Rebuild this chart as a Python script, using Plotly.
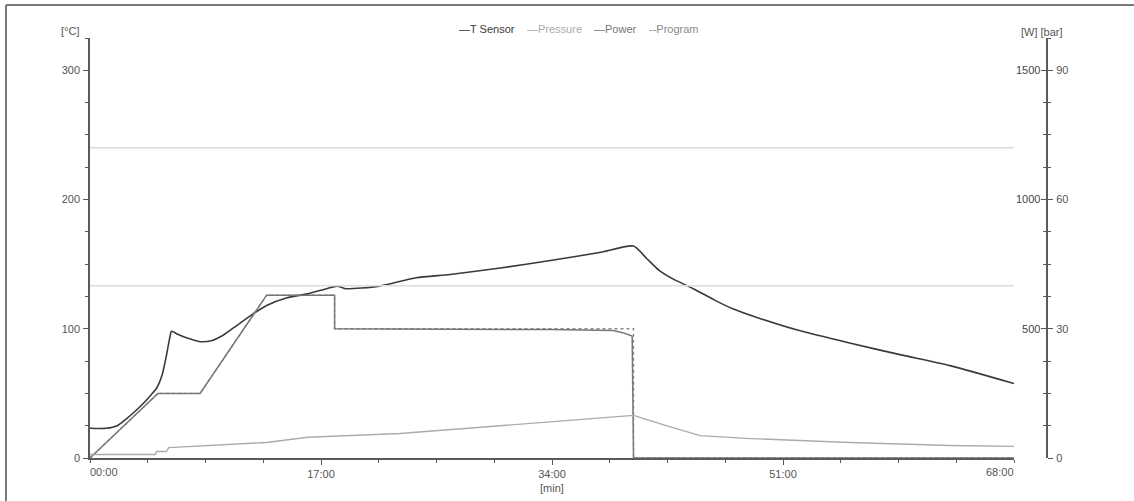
import plotly.graph_objects as go

# ---------------- data ----------------
# time in minutes
t_sensor_time = [0, 1.2, 2.0, 2.7, 3.3, 3.9, 4.5, 4.9, 5.3, 5.6, 5.85, 6.0, 6.5, 7.1, 8.1, 9.0, 9.8,
                 10.8, 12.0, 13.0, 14.5, 16.0, 17.4, 18.2, 18.8, 21.3, 24.0, 26.5, 30.2, 34.0,
                 37.5, 40.0, 41.0, 41.9, 43.0, 44.4, 46.0, 47.3, 49.3, 52.2, 55.9, 59.6, 63.3, 68.0]
t_sensor_c = [23, 23, 25, 30.5, 36, 42, 49, 54, 64, 78, 92, 98, 95.5, 93, 90, 91, 95,
              102.5, 111.5, 118, 124, 127, 131, 133, 131, 133, 139.5, 142, 147, 153,
              159, 164, 154, 145, 138, 131, 122, 115.5, 108, 98.6, 89, 80, 71.5, 57.6]

program_time = [0, 5.0, 8.1, 13.0, 18.0, 18.0, 40.0, 40.0, 68.0]
program_c = [0, 50, 50, 126, 126, 100, 100, 0, 0]

power_time = [0, 5.0, 8.1, 13.0, 18.0, 18.0, 34.0, 38.5, 39.2, 39.9, 40.0, 68.0]
power_w = [0, 250, 250, 630, 630, 500, 497, 493, 485, 472, 0, 0]

pressure_time = [0, 4.8, 4.9, 5.6, 5.8, 9.0, 13.0, 16.0, 17.5, 19.0, 22.8, 30.2, 37.5, 40.0,
                 42.4, 44.4, 44.9, 48.6, 55.9, 63.3, 68.0]
pressure_bar = [0.8, 0.8, 1.5, 1.5, 2.4, 3.0, 3.6, 4.8, 5.0, 5.1, 5.7, 7.5, 9.2, 9.9,
                7.5, 5.7, 5.2, 4.5, 3.6, 2.9, 2.7]

temp_limit_c = 240
pressure_limit_bar = 40

x_tick_vals = [0, 17, 34, 51, 68]
x_tick_text = ["00:00", "17:00", "34:00", "51:00", "68:00"]
temp_ticks = [0, 100, 200, 300]
power_ticks = [0, 500, 1000, 1500]
pressure_ticks = [0, 30, 60, 90]

# ---------------- styling ----------------
C_T = "#3a3a3a"
C_PRESS = "#ababab"
C_POWER = "#767676"
C_PROG = "#8a8a8a"
C_LIMIT = "#dcdcdc"
C_AXIS = "#5a5a5a"
C_TEXT = "#555555"
FONT = "Liberation Sans, Arial, sans-serif"

fig = go.Figure()

# limit lines
fig.add_trace(go.Scatter(x=[0, 68], y=[temp_limit_c, temp_limit_c], mode="lines",
                         line=dict(color=C_LIMIT, width=1.5), showlegend=False, hoverinfo="skip"))
fig.add_trace(go.Scatter(x=[0, 68], y=[pressure_limit_bar, pressure_limit_bar], yaxis="y3",
                         mode="lines", line=dict(color=C_LIMIT, width=1.5),
                         showlegend=False, hoverinfo="skip"))

fig.add_trace(go.Scatter(x=pressure_time, y=pressure_bar, yaxis="y3", name="Pressure",
                         mode="lines", line=dict(color=C_PRESS, width=1.4), showlegend=False))
fig.add_trace(go.Scatter(x=power_time, y=power_w, yaxis="y2", name="Power",
                         mode="lines", line=dict(color=C_POWER, width=1.5), showlegend=False))
fig.add_trace(go.Scatter(x=program_time, y=program_c, name="Program",
                         mode="lines", line=dict(color=C_PROG, width=1.3, dash="dot"),
                         showlegend=False))
fig.add_trace(go.Scatter(x=t_sensor_time, y=t_sensor_c, name="T Sensor",
                         mode="lines", line=dict(color=C_T, width=1.6, shape="spline",
                                                 smoothing=0.6),
                         showlegend=False))

L, R, T, B = 90, 87, 38, 43
W, H = 1134, 501
pw, ph = W - L - R, H - T - B


def px_x(x):
    return (x - L) / pw


def px_y(y):
    return (H - B - y) / ph


fig.update_layout(
    width=W, height=H,
    margin=dict(l=L, r=R, t=T, b=B, autoexpand=False),
    paper_bgcolor="white", plot_bgcolor="white",
    font=dict(family=FONT, size=11, color=C_TEXT),
    showlegend=False,
    xaxis=dict(
        domain=[0, px_x(1014)], range=[0, 68], automargin=False,
        tickvals=x_tick_vals[1:-1], ticktext=x_tick_text[1:-1],
        ticks="outside", ticklen=5, tickcolor=C_AXIS, tickwidth=1.2,
        minor=dict(dtick=4.25, tick0=0, ticks="outside", ticklen=3, tickcolor=C_AXIS),
        showline=True, linecolor=C_AXIS, linewidth=1.6,
        showgrid=False, zeroline=False,
        tickfont=dict(size=11, color=C_TEXT),
    ),
    yaxis=dict(
        range=[0, 325], tickvals=temp_ticks, automargin=False,
        ticks="outside", ticklen=5, tickcolor=C_AXIS, tickwidth=1.2,
        minor=dict(dtick=25, ticks="outside", ticklen=3, tickcolor=C_AXIS),
        showline=True, linecolor=C_AXIS, linewidth=1.6,
        showgrid=False, zeroline=False, ticklabelstandoff=1,
    ),
    yaxis2=dict(
        overlaying="y", anchor="free", position=1, side="right", automargin=False,
        range=[0, 1625], tickvals=power_ticks,
        ticks="inside", ticklen=5, tickcolor=C_AXIS, tickwidth=1.2,
        ticklabelposition="inside",
        minor=dict(dtick=125, ticks="inside", ticklen=3, tickcolor=C_AXIS),
        showline=True, linecolor=C_AXIS, linewidth=1.6,
        showgrid=False, zeroline=False,
    ),
    yaxis3=dict(
        overlaying="y", anchor="free", position=1, side="right", automargin=False,
        range=[0, 97.5], tickvals=pressure_ticks,
        ticks="outside", ticklen=5, tickcolor=C_AXIS, tickwidth=1.2,
        minor=dict(dtick=7.5, ticks="outside", ticklen=3, tickcolor=C_AXIS),
        showline=False, showgrid=False, zeroline=False, ticklabelstandoff=1,
    ),
)

annotations = [
    dict(text="[°C]", x=px_x(70), y=px_y(31), xref="paper", yref="paper",
         showarrow=False, xanchor="center", yanchor="middle", font=dict(size=11, color=C_TEXT)),
    dict(text="[W] [bar]", x=px_x(1042), y=px_y(32), xref="paper", yref="paper",
         showarrow=False, xanchor="center", yanchor="middle", font=dict(size=11, color=C_TEXT)),
    dict(text=x_tick_text[0], x=x_tick_vals[0], y=px_y(472), xref="x", yref="paper",
         showarrow=False, xanchor="left", yanchor="middle", xshift=-2,
         font=dict(size=11, color=C_TEXT)),
    dict(text=x_tick_text[-1], x=x_tick_vals[-1], y=px_y(472), xref="x", yref="paper",
         showarrow=False, xanchor="right", yanchor="middle", xshift=2,
         font=dict(size=11, color=C_TEXT)),
    dict(text="[min]", x=34, y=px_y(488), xref="x", yref="paper",
         showarrow=False, xanchor="center", yanchor="middle", font=dict(size=11, color=C_TEXT)),
]

legend_items = [("—T Sensor", C_T, 457), ("—Pressure", C_PRESS, 525),
                ("—Power", C_POWER, 592), ("--Program", C_PROG, 647)]
for txt, col, xpx in legend_items:
    annotations.append(dict(text=txt, x=px_x(xpx), y=px_y(29), xref="paper", yref="paper",
                            showarrow=False, xanchor="left", yanchor="middle",
                            font=dict(size=11, color=col)))
fig.update_layout(annotations=annotations)

# frame of the cropped screenshot (top and left edges)
fig.add_shape(type="line", xref="paper", yref="paper",
              x0=px_x(6), x1=px_x(W + 5), y0=px_y(5), y1=px_y(5),
              line=dict(color="#7a7a7a", width=2))
fig.add_shape(type="line", xref="paper", yref="paper",
              x0=px_x(6), x1=px_x(6), y0=px_y(5), y1=px_y(H + 5),
              line=dict(color="#7a7a7a", width=2))

fig.write_html("out.html",
               config={"displayModeBar": False},
               post_script="document.body.style.margin='0';document.body.style.overflow='hidden';")
